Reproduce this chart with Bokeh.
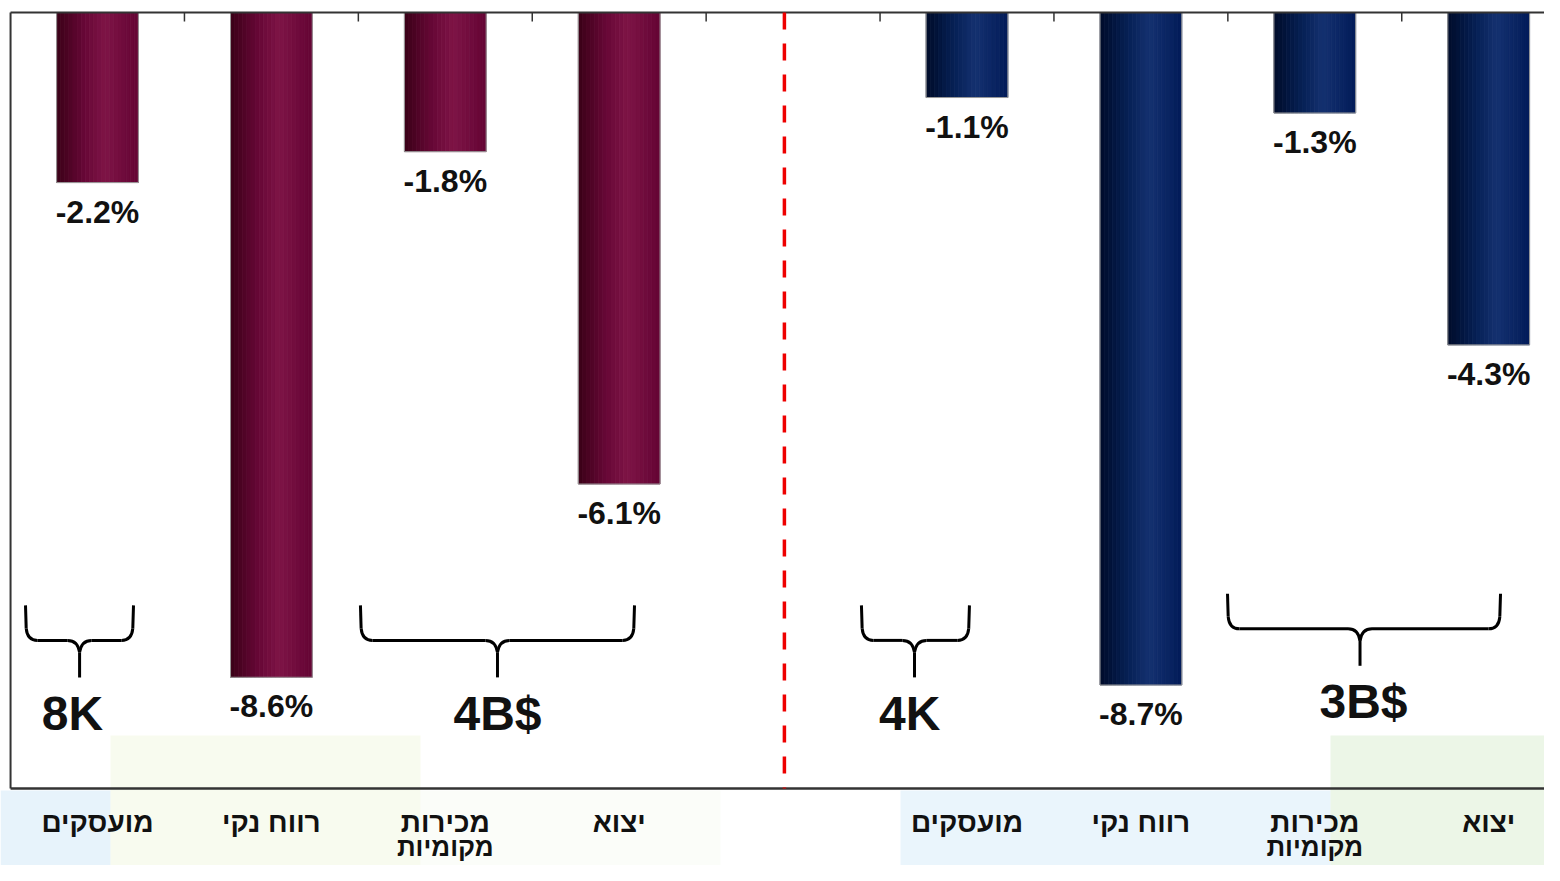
from bokeh.plotting import figure
from bokeh.models import Range1d
from bokeh.embed import file_html
from bokeh.resources import INLINE
from bokeh.core.properties import value

# ---------------- data ----------------
categories = ["מועסקים", "רווח נקי", "מכירות\nמקומיות", "יצוא",
              "מועסקים", "רווח נקי", "מכירות\nמקומיות", "יצוא"]
positions = [0, 1, 2, 3, 5, 6, 7, 8]
values = [-2.2, -8.6, -1.8, -6.1, -1.1, -8.7, -1.3, -4.3]
labels = ["-2.2%", "-8.6%", "-1.8%", "-6.1%", "-1.1%", "-8.7%", "-1.3%", "-4.3%"]
group = ["a", "a", "a", "a", "b", "b", "b", "b"]

brace_texts = ["8K", "4B$", "4K", "3B$"]
brace_x0 = [-0.414, 1.512, 4.393, 6.498]
brace_x1 = [0.207, 3.088, 5.014, 8.068]
brace_xc = [-0.103, 2.30, 4.698, 7.26]
brace_top = [-7.67, -7.67, -7.67, -7.52]
brace_label_x = [-0.144, 2.30, 4.67, 7.28]

divider_x = 3.95
tick_x = [0.5, 1.5, 2.5, 3.5, 4.5, 5.5, 6.5, 7.5]

# ---------------- geometry helpers ----------------
X0, DX = 97.0, 173.9    # px of slot 0 centre, px per slot
Y0, DY = 12.0, 77.3     # px of value 0, px per unit


def px_x(px):
    return (px - X0) / DX


def px_y(px):
    return -(px - Y0) / DY


W, H = 1544, 865
p = figure(width=W, height=H, output_backend="svg", toolbar_location=None,
           x_range=Range1d(px_x(0), px_x(W)), y_range=Range1d(px_y(H), px_y(0)),
           min_border=0, outline_line_color=None,
           x_axis_location=None, y_axis_location=None,
           background_fill_color="white", border_fill_color="white")
p.grid.visible = False

# faint slide background patches
bg = [
    (0, 110, 790, 881, "#b9dcf3", 0.35),
    (110, 420, 735, 881, "#eaf3d2", 0.35),
    (420, 720, 790, 881, "#f3f8ea", 0.3),
    (900, 1330, 790, 881, "#c4e3f6", 0.35),
    (1330, 1560, 735, 881, "#cfe8c2", 0.4),
]
for l, r, t, b, c, a in bg:
    p.quad(left=px_x(l), right=px_x(r), top=px_y(t), bottom=px_y(b),
           fill_color=c, fill_alpha=a, line_color=None)

# ---------------- bars with horizontal gradient ----------------
bar_w = 0.47
N = 20
stops = {
    "a": [(0.0, (0x3a, 0x00, 0x17)), (0.35, (0x68, 0x08, 0x37)),
          (0.6, (0x7e, 0x14, 0x46)), (1.0, (0x64, 0x04, 0x34))],
    "b": [(0.0, (0x00, 0x0c, 0x2a)), (0.35, (0x06, 0x20, 0x55)),
          (0.6, (0x14, 0x31, 0x70)), (1.0, (0x02, 0x1b, 0x58))],
}


def interp(st, t):
    for (t0, c0), (t1, c1) in zip(st[:-1], st[1:]):
        if t <= t1:
            f = (t - t0) / (t1 - t0) if t1 > t0 else 0
            return "#%02x%02x%02x" % tuple(int(round(a + (b - a) * f)) for a, b in zip(c0, c1))
    return "#%02x%02x%02x" % st[-1][1]


xs, bots, cols = [], [], []
for x, v, g in zip(positions, values, group):
    for i in range(N):
        t = (i + 0.5) / N
        xs.append(x - bar_w / 2 + bar_w * t)
        bots.append(v)
        cols.append(interp(stops[g], t))
p.vbar(x=xs, width=bar_w / N, top=0, bottom=bots, fill_color=cols, line_color=cols,
       line_width=0.8)
p.vbar(x=positions, width=bar_w, top=0, bottom=values, fill_color=None,
       line_color="#9a9a9a", line_width=1)

# value labels
p.text(x=positions, y=values, text=labels, text_align="center", text_baseline="middle",
       y_offset=29, text_font=value("Liberation Sans"), text_font_style="bold",
       text_font_size="32px", text_color="#111111")

# ---------------- frame ----------------
x_end = px_x(W)
y_bottom = px_y(788)
p.line(x=[-0.5, x_end], y=[0, 0], line_color="#333333", line_width=2)
p.line(x=[-0.5, -0.5], y=[0, y_bottom], line_color="#333333", line_width=2)
p.line(x=[-0.5, x_end], y=[y_bottom, y_bottom], line_color="#333333", line_width=2.5)
tick_len = 9 / DY
p.segment(x0=tick_x, y0=[0] * len(tick_x), x1=tick_x, y1=[-tick_len] * len(tick_x),
          line_color="#333333", line_width=1.5)

# red dashed divider
p.line(x=[divider_x, divider_x], y=[0, y_bottom], line_color="#ee0000", line_width=3.5,
       line_dash="17 14")

# ---------------- braces ----------------
rx = 12 / DX
ry = 12 / DY
h_drop = 35 / DY
tip_drop = 72 / DY
for x0, x1, xc, yt in zip(brace_x0, brace_x1, brace_xc, brace_top):
    yh = yt - h_drop
    ytip = yt - tip_drop
    p.line(x=[x0, x0 + 0.004], y=[yt, yh + ry], line_color="black", line_width=3)
    p.quadratic(x0=[x0 + 0.004], y0=[yh + ry], x1=[x0 + rx], y1=[yh], cx=[x0 + 0.01], cy=[yh],
                line_color="black", line_width=3)
    p.line(x=[x0 + rx, xc - rx], y=[yh, yh], line_color="black", line_width=3)
    p.quadratic(x0=[xc - rx], y0=[yh], x1=[xc], y1=[yh - ry], cx=[xc - 0.01], cy=[yh],
                line_color="black", line_width=3)
    p.line(x=[x1, x1 - 0.004], y=[yt, yh + ry], line_color="black", line_width=3)
    p.quadratic(x0=[x1 - 0.004], y0=[yh + ry], x1=[x1 - rx], y1=[yh], cx=[x1 - 0.01], cy=[yh],
                line_color="black", line_width=3)
    p.line(x=[x1 - rx, xc + rx], y=[yh, yh], line_color="black", line_width=3)
    p.quadratic(x0=[xc + rx], y0=[yh], x1=[xc], y1=[yh - ry], cx=[xc + 0.01], cy=[yh],
                line_color="black", line_width=3)
    p.line(x=[xc, xc], y=[yh - ry, ytip], line_color="black", line_width=3)

brace_label_y = [t - tip_drop for t in brace_top]
p.text(x=brace_label_x, y=brace_label_y, text=brace_texts, text_align="center",
       text_baseline="middle", y_offset=36, text_font=value("Liberation Sans"),
       text_font_style="bold", text_font_size="48px", text_color="#111111")

# ---------------- category labels below the frame ----------------
line1 = [c.split("\n")[0] for c in categories]
line2 = [c.split("\n")[1] if "\n" in c else "" for c in categories]
p.text(x=positions, y=[px_y(822)] * len(positions), text=line1, text_align="center",
       text_baseline="middle", text_font=value("Liberation Sans"), text_font_style="bold",
       text_font_size="28px", text_color="#111111")
p.text(x=positions, y=[px_y(846)] * len(positions), text=line2, text_align="center",
       text_baseline="middle", text_font=value("Liberation Sans"), text_font_style="bold",
       text_font_size="26px", text_color="#111111")

open("out.html", "w").write(file_html(p, INLINE))
